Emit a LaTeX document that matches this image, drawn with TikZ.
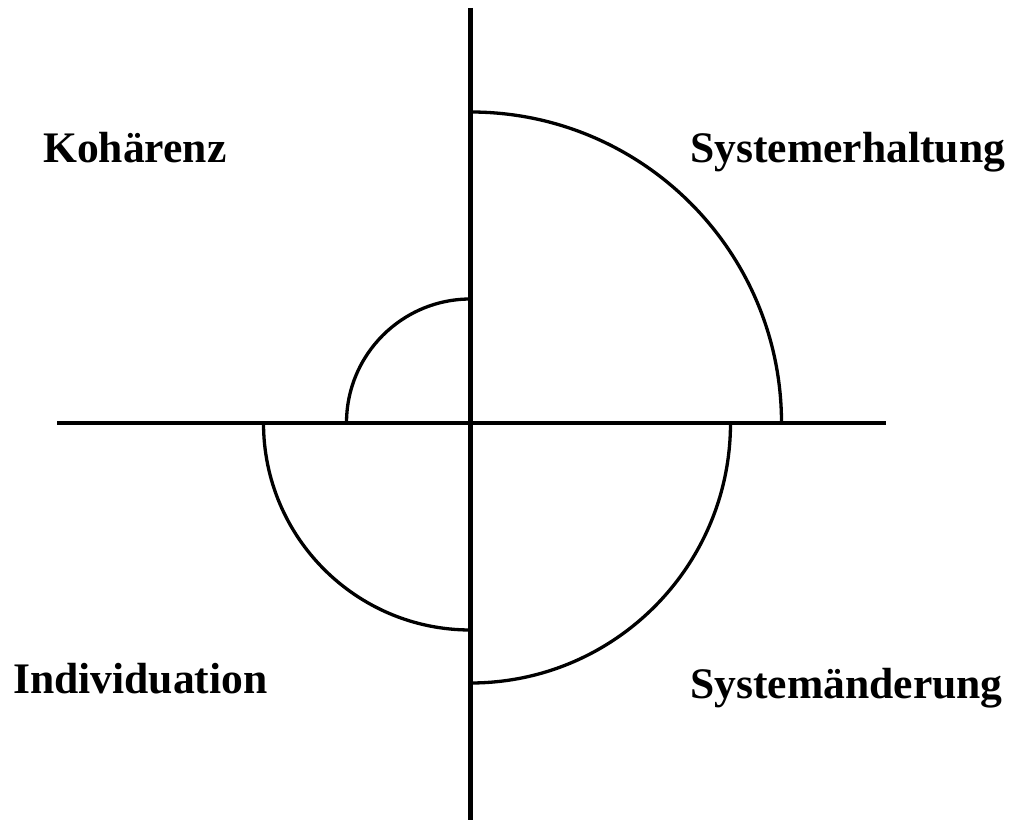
\documentclass[tikz,border=0pt]{standalone}
\usepackage{fontspec}
\setmainfont{Liberation Serif}
\begin{document}
\begin{tikzpicture}[x=1pt,y=1pt,
  axis/.style={line width=4.8pt},
  arcline/.style={line width=3.3pt},
  lbl/.style={font=\fontsize{43.6}{48}\selectfont\bfseries, inner sep=0pt, anchor=base west}]
\useasboundingbox (0,0) rectangle (1009,833);
\coordinate (O) at (470.5,410);
\coordinate (T) at (470.5,825);
\coordinate (B) at (470.5,13);
\coordinate (L) at (57,410);
\coordinate (R) at (886,410);
\draw[axis] (T) -- (B);
\draw[axis] (L) -- (R);
% arcs
\draw[arcline] ([yshift=311pt]O) arc[start angle=90, end angle=0, radius=311];
\draw[arcline] ([yshift=124pt]O) arc[start angle=90, end angle=180, radius=124];
\draw[arcline] ([xshift=-207pt]O) arc[start angle=180, end angle=270, radius=207];
\draw[arcline] ([xshift=260pt]O) arc[start angle=0, end angle=-90, radius=260];
% labels
\node[lbl] (koh) at (43,670) {Kohärenz};
\node[lbl] (seh) at (690,670) {Systemerhaltung};
\node[lbl] (ind) at (13,140) {Individuation};
\node[lbl] (sae) at (690,135) {Systemänderung};
\end{tikzpicture}
\end{document}
